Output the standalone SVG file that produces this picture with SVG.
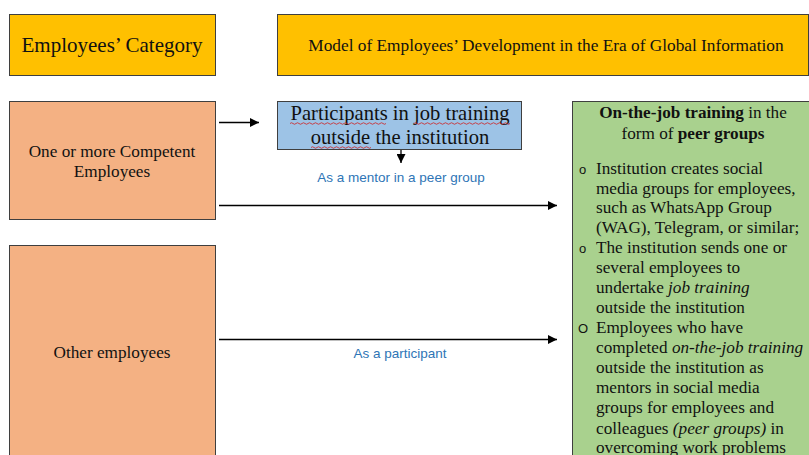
<svg xmlns="http://www.w3.org/2000/svg" width="809" height="455" viewBox="0 0 809 455">
<style>
.box{stroke:#3f3f3f;stroke-width:1}
.hdr{fill:#FFC000}
.cat{fill:#F4B183}
.blue{fill:#9DC3E6}
.green{fill:#A9D18E}
.t{font-family:"Liberation Serif","Times New Roman",serif;fill:#111}
.lab{font-family:"Liberation Sans",Arial,sans-serif;font-size:13.5px;fill:#2E75B6}
.bul{font-family:"Liberation Sans",Arial,sans-serif;font-size:13px}
.conn{stroke:#000;stroke-width:1.3;fill:none}
.sq{stroke:#d02020;stroke-width:0.8;fill:none}
</style>
<defs>
<marker id="ah" viewBox="0 0 10 10" refX="10" refY="5" markerWidth="9" markerHeight="9" markerUnits="userSpaceOnUse" orient="auto">
<path d="M0,0 L10,5 L0,10 z" fill="#000"/>
</marker>
</defs>

<g id="node-category-header">
<rect class="box hdr" x="9.5" y="14.5" width="206" height="61"/>
<text class="t" x="112" y="52" font-size="21" text-anchor="middle">Employees’ Category</text>
</g>
<g id="node-model-header">
<rect class="box hdr" x="277.5" y="14.5" width="531" height="61"/>
<text class="t" x="546" y="51" font-size="17.3" text-anchor="middle">Model of Employees’ Development in the Era of Global Information</text>
</g>

<g id="node-competent">
<rect class="box cat" x="9.5" y="101.5" width="206" height="118"/>
<text class="t" x="112" y="157" font-size="17.2" text-anchor="middle">One or more Competent</text>
<text class="t" x="112" y="177" font-size="17.2" text-anchor="middle">Employees</text>
</g>

<g id="node-other">
<rect class="box cat" x="9.5" y="245.5" width="206" height="215"/>
<text class="t" x="112" y="358" font-size="17.2" text-anchor="middle">Other employees</text>
</g>

<g id="node-participants">
<rect class="box blue" x="277.5" y="101.5" width="244" height="48"/>
<text class="t" x="400" y="120" font-size="20.6" text-anchor="middle">Participants in job training</text>
<text class="t" x="400" y="144" font-size="20.6" text-anchor="middle">outside the institution</text>
<path class="sq" d="M290,123.5 q1.5,-1.5 3,0 t3,0 t3,0 t3,0 t3,0 t3,0 t3,0 t3,0 t3,0 t3,0 t3,0 t3,0 t3,0 t3,0 t3,0 t3,0 t3,0 t3,0 t3,0 t3,0 t3,0 t3,0 t3,0 t3,0 t3,0 t3,0 t3,0 t3,0 t3,0 t3,0 t3,0 t3,0"/>
<path class="sq" d="M414,123.5 q1.5,-1.5 3,0 t3,0 t3,0 t3,0 t3,0 t3,0 t3,0 t3,0 t3,0 t3,0 t3,0 t3,0 t3,0 t3,0 t3,0 t3,0 t3,0 t3,0 t3,0 t3,0 t3,0 t3,0 t3,0 t3,0 t3,0 t3,0 t3,0 t3,0 t3,0 t3,0 t3,0 t3,0"/>
<path class="sq" d="M311,147.5 q1.5,-1.5 3,0 t3,0 t3,0 t3,0 t3,0 t3,0 t3,0 t3,0 t3,0 t3,0 t3,0 t3,0 t3,0 t3,0 t3,0 t3,0 t3,0 t3,0 t3,0 t3,0"/>
</g>

<g id="node-peer-groups">
<rect class="box green" x="572.5" y="101.5" width="240" height="360"/>
<g class="t" font-size="17.2">
<text x="693" y="118" text-anchor="middle"><tspan font-weight="bold">On-the-job training</tspan> in the</text>
<text x="693" y="139" text-anchor="middle">form of <tspan font-weight="bold">peer groups</tspan></text>
<text class="bul" x="579" y="174">o</text>
<text x="596" y="174">Institution creates social</text>
<text x="596" y="194">media groups for employees,</text>
<text x="596" y="213">such as WhatsApp Group</text>
<text x="596" y="233">(WAG), Telegram, or similar;</text>
<text class="bul" x="579" y="253">o</text>
<text x="596" y="253">The institution sends one or</text>
<text x="596" y="273">several employees to</text>
<text x="596" y="293">undertake <tspan font-style="italic">job training</tspan></text>
<text x="596" y="313">outside the institution</text>
<text class="bul" x="578" y="333" font-size="14">O</text>
<text x="596" y="333">Employees who have</text>
<text x="596" y="353">completed <tspan font-style="italic">on-the-job training</tspan></text>
<text x="596" y="373">outside the institution as</text>
<text x="596" y="393">mentors in social media</text>
<text x="596" y="413">groups for employees and</text>
<text x="596" y="434">colleagues <tspan font-style="italic">(peer groups)</tspan> in</text>
<text x="596" y="453">overcoming work problems</text>
</g>
</g>

<g id="connectors">
<line class="conn" x1="219" y1="122.5" x2="259" y2="122.5" marker-end="url(#ah)"/>
<line class="conn" x1="401" y1="150" x2="401" y2="163" marker-end="url(#ah)"/>
<line class="conn" x1="219" y1="205.5" x2="557" y2="205.5" marker-end="url(#ah)"/>
<line class="conn" x1="219" y1="339.5" x2="557" y2="339.5" marker-end="url(#ah)"/>
<text class="lab" x="401" y="182" text-anchor="middle">As a mentor in a peer group</text>
<text class="lab" x="400" y="358" text-anchor="middle">As a participant</text>
</g>
</svg>
